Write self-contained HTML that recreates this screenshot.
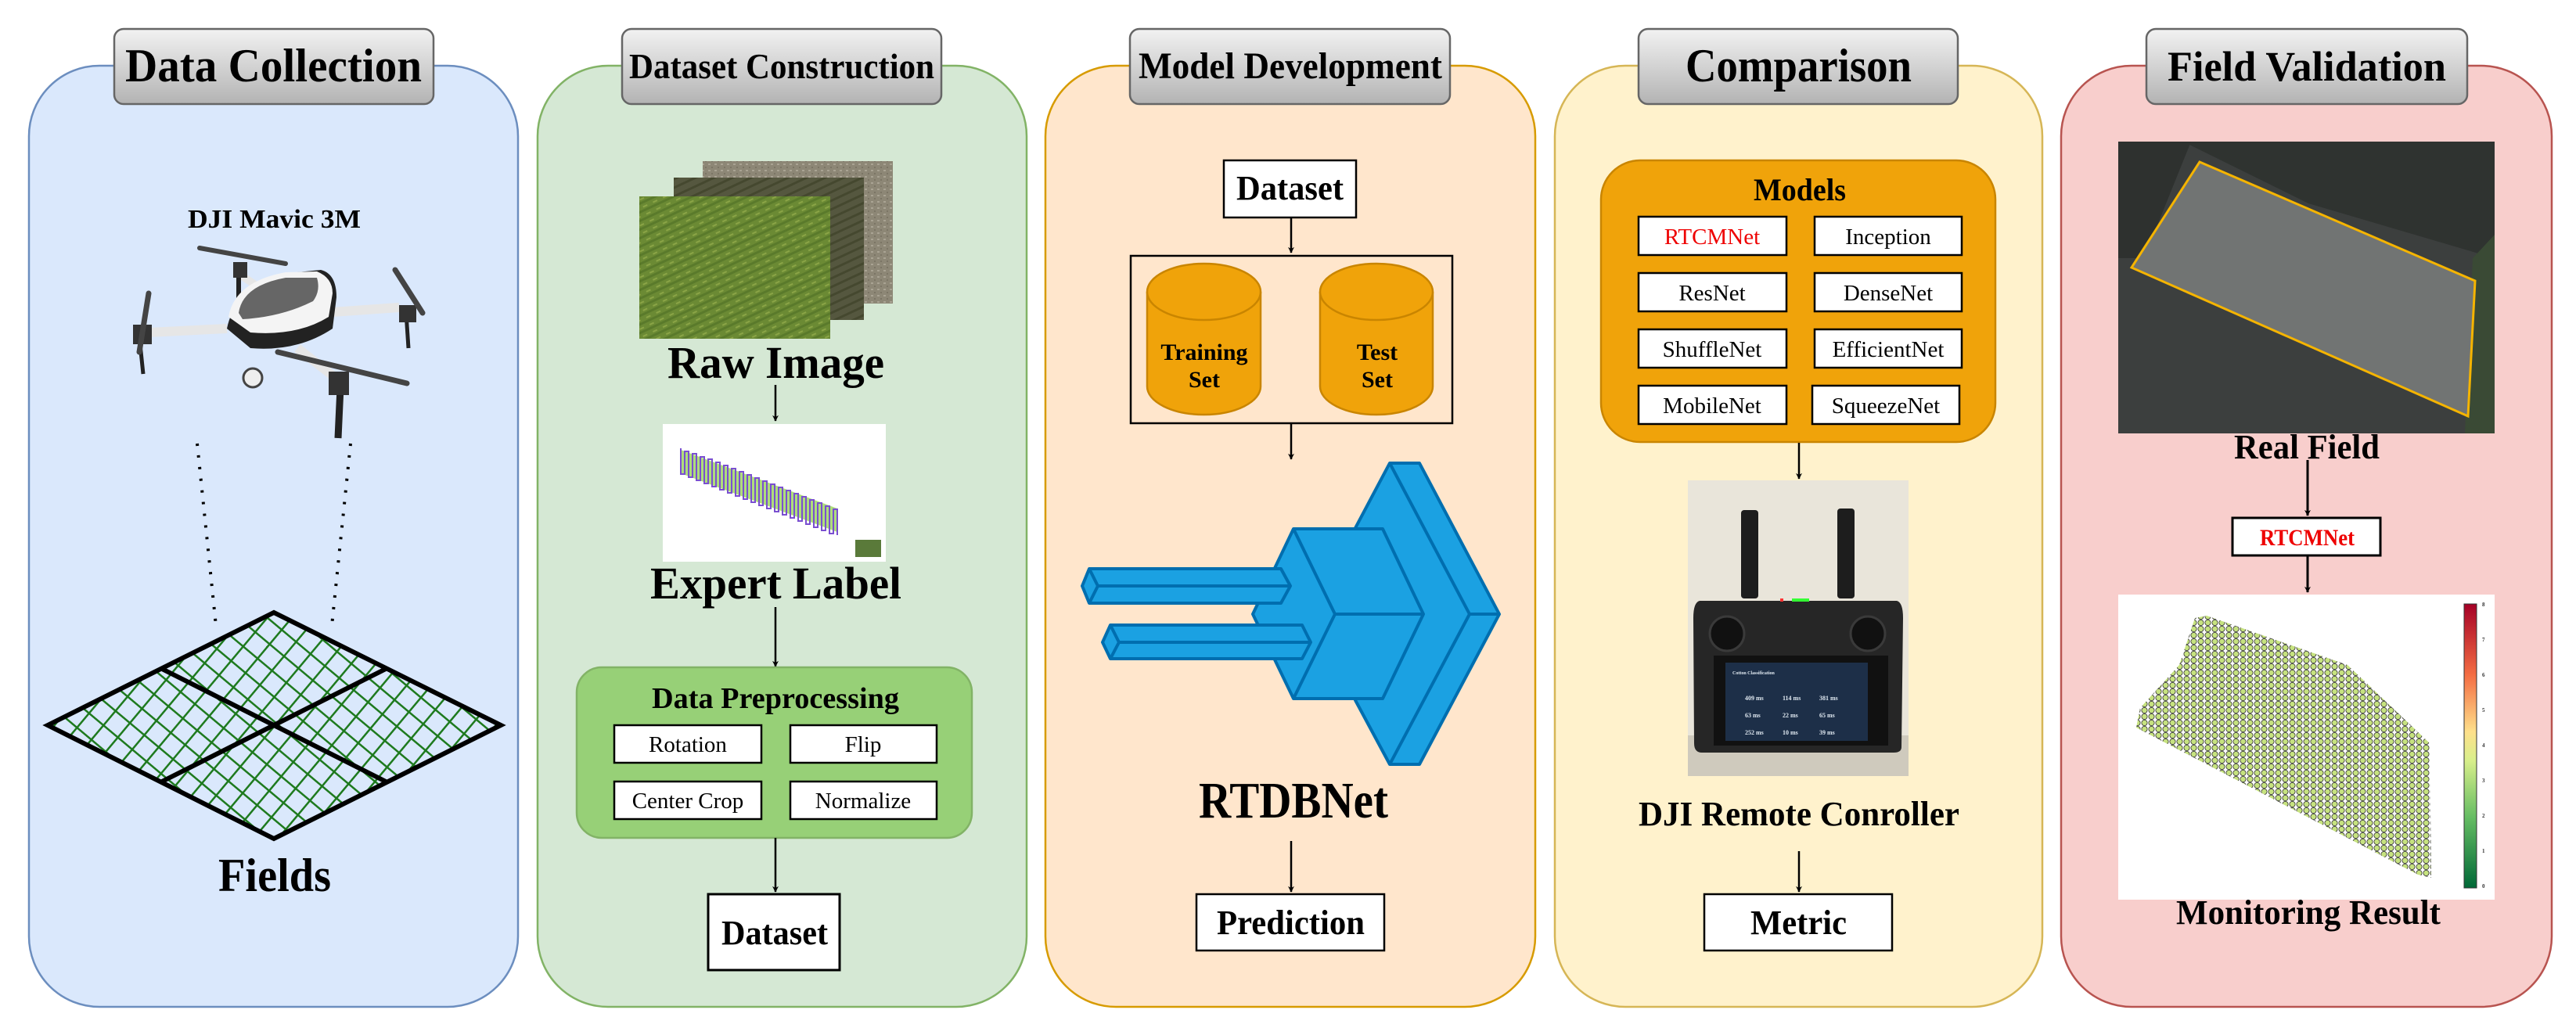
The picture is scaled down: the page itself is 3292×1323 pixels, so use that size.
<!DOCTYPE html>
<html><head><meta charset="utf-8"><style>
html,body{margin:0;padding:0;background:#fff;}
svg{display:block;}
text{font-family:"Liberation Serif",serif;font-weight:bold;}
</style></head><body>
<svg width="3292" height="1323" viewBox="0 0 3292 1323" xmlns="http://www.w3.org/2000/svg">
<defs>
<linearGradient id="tg" x1="0" y1="0" x2="0" y2="1"><stop offset="0" stop-color="#f2f2f2"/><stop offset="1" stop-color="#b3b3b3"/></linearGradient>
<marker id="ar" viewBox="0 0 10 10" refX="9" refY="5" markerWidth="8" markerHeight="8" markerUnits="userSpaceOnUse" orient="auto"><path d="M0,0 L10,5 L0,10 L3,5 z" fill="#000"/></marker>
<pattern id="hatch" width="24" height="24" patternUnits="userSpaceOnUse" patternTransform="rotate(40)">
<line x1="0" y1="0" x2="0" y2="24" stroke="#1e7a1e" stroke-width="5"/><line x1="0" y1="0" x2="24" y2="0" stroke="#1e7a1e" stroke-width="5"/></pattern>
<pattern id="grass" width="14" height="10" patternUnits="userSpaceOnUse" patternTransform="rotate(-25)">
<rect width="14" height="10" fill="#6b8a34"/><rect width="14" height="3" fill="#5a7a2b"/><rect x="3" y="6" width="6" height="2" fill="#8aa446"/></pattern>
<pattern id="dark" width="12" height="10" patternUnits="userSpaceOnUse" patternTransform="rotate(-25)">
<rect width="12" height="10" fill="#55573f"/><rect width="12" height="3" fill="#45482f"/></pattern>
<pattern id="grav" width="8" height="8" patternUnits="userSpaceOnUse">
<rect width="8" height="8" fill="#8d8776"/><rect x="1" y="1" width="3" height="2" fill="#a9a393"/><rect x="5" y="5" width="2" height="2" fill="#7b7565"/></pattern>
<pattern id="dots" width="9" height="8" patternUnits="userSpaceOnUse">
<rect width="9" height="8" fill="#fff"/><circle cx="4.5" cy="4" r="3.6" fill="#c6e27f" stroke="#333" stroke-width="0.8"/></pattern>
<linearGradient id="cb" x1="0" y1="1" x2="0" y2="0"><stop offset="0" stop-color="#006837"/><stop offset="0.25" stop-color="#66bd63"/><stop offset="0.45" stop-color="#d9ef8b"/><stop offset="0.55" stop-color="#fee08b"/><stop offset="0.75" stop-color="#f46d43"/><stop offset="1" stop-color="#a50026"/></linearGradient>
<clipPath id="dia"><polygon points="61,927 350,783 640,927 350,1072"/></clipPath>
<clipPath id="mon"><polygon points="2730,930 2735,905 2785,850 2805,790 2820,787 3000,850 3105,950 3107,1122 3090,1118"/></clipPath>
</defs>

<rect x="37" y="84" width="625" height="1203" rx="90" fill="#dae8fc" stroke="#6c8ebf" stroke-width="2.5"/>
<rect x="687" y="84" width="625" height="1203" rx="90" fill="#d5e8d4" stroke="#82b366" stroke-width="2.5"/>
<rect x="1336" y="84" width="626" height="1203" rx="90" fill="#ffe6cc" stroke="#d79b00" stroke-width="2.5"/>
<rect x="1987" y="84" width="623" height="1203" rx="90" fill="#fff2cc" stroke="#d6b656" stroke-width="2.5"/>
<rect x="2634" y="84" width="627" height="1203" rx="90" fill="#f8cecc" stroke="#b85450" stroke-width="2.5"/>

<g stroke="#666" stroke-width="2.5" fill="url(#tg)">
<rect x="146" y="37" width="408" height="96" rx="12"/>
<rect x="795" y="37" width="408" height="96" rx="12"/>
<rect x="1444" y="37" width="409" height="96" rx="12"/>
<rect x="2094" y="37" width="408" height="96" rx="12"/>
<rect x="2743" y="37" width="410" height="96" rx="12"/>
</g>
<text x="160" y="104" font-size="60" textLength="379" lengthAdjust="spacingAndGlyphs">Data Collection</text>
<text x="804" y="100" font-size="46" textLength="390" lengthAdjust="spacingAndGlyphs">Dataset Construction</text>
<text x="1455" y="100" font-size="48" textLength="388" lengthAdjust="spacingAndGlyphs">Model Development</text>
<text x="2154" y="104" font-size="60" textLength="289" lengthAdjust="spacingAndGlyphs">Comparison</text>
<text x="2770" y="103" font-size="54" textLength="356" lengthAdjust="spacingAndGlyphs">Field Validation</text>

<text x="240" y="291" font-size="34" textLength="221" lengthAdjust="spacingAndGlyphs">DJI Mavic 3M</text>
<g>
<line x1="190" y1="425" x2="290" y2="420" stroke="#e6e6e6" stroke-width="12"/>
<line x1="410" y1="400" x2="510" y2="393" stroke="#e6e6e6" stroke-width="12"/>
<line x1="305" y1="350" x2="335" y2="370" stroke="#e6e6e6" stroke-width="10"/>
<line x1="380" y1="445" x2="425" y2="480" stroke="#e6e6e6" stroke-width="12"/>
<path d="M178,430 L183,478" stroke="#222" stroke-width="5"/>
<path d="M519,400 L522,445" stroke="#222" stroke-width="5"/>
<path d="M305,350 L305,390" stroke="#222" stroke-width="6"/>
<path d="M435,495 L432,560" stroke="#222" stroke-width="9"/>
<rect x="170" y="415" width="24" height="25" fill="#333"/>
<rect x="510" y="390" width="22" height="22" fill="#333"/>
<rect x="298" y="335" width="18" height="20" fill="#333"/>
<rect x="420" y="475" width="26" height="30" fill="#333"/>
<path d="M255,317 L365,337" stroke="#444" stroke-width="6" stroke-linecap="round"/>
<path d="M190,375 L178,450" stroke="#444" stroke-width="7" stroke-linecap="round"/>
<path d="M505,345 L540,400" stroke="#444" stroke-width="7" stroke-linecap="round"/>
<path d="M355,450 L520,490" stroke="#444" stroke-width="7" stroke-linecap="round"/>
<path d="M290,420 Q300,370 360,350 L410,345 Q430,350 430,380 L425,420 Q380,450 320,445 Z" fill="#222"/>
<path d="M292,405 Q300,360 365,348 L405,347 Q425,355 425,375 L420,405 Q380,430 320,425 Z" fill="#f4f4f4"/>
<path d="M305,400 Q310,365 365,355 L405,355 Q410,372 400,385 Q360,405 310,408 Z" fill="#666"/>
<circle cx="323" cy="483" r="12" fill="#eee" stroke="#444" stroke-width="3"/>
</g>
<line x1="252" y1="567" x2="276" y2="800" stroke="#000" stroke-width="4" stroke-dasharray="3,12"/>
<line x1="448" y1="567" x2="424" y2="800" stroke="#000" stroke-width="4" stroke-dasharray="3,12"/>
<rect x="40" y="770" width="620" height="320" fill="url(#hatch)" clip-path="url(#dia)"/>
<polygon points="61,927 350,783 640,927 350,1072" fill="none" stroke="#000" stroke-width="6"/>
<line x1="207" y1="855" x2="493" y2="999" stroke="#000" stroke-width="6"/>
<line x1="493" y1="855" x2="207" y2="999" stroke="#000" stroke-width="6"/>
<text x="279" y="1139" font-size="60" textLength="144" lengthAdjust="spacingAndGlyphs">Fields</text>

<rect x="898" y="206" width="243" height="182" fill="url(#grav)"/>
<rect x="861" y="227" width="243" height="182" fill="url(#dark)"/>
<rect x="817" y="251" width="244" height="182" fill="url(#grass)"/>
<text x="853" y="483" font-size="58" textLength="277" lengthAdjust="spacingAndGlyphs">Raw Image</text>
<line x1="991" y1="492" x2="991" y2="538" stroke="#000" stroke-width="2.5" marker-end="url(#ar)"/>
<rect x="847" y="542" width="285" height="176" fill="#fff"/>
<polygon points="870,575 1070,650 1070,680 870,605" fill="#9ad65a" opacity="0.8"/>
<polyline points="870,573 870,606 875,606 875,577 880,577 880,610 885,610 885,580 890,580 890,614 895,614 895,584 900,584 900,618 905,618 905,587 910,587 910,622 915,622 915,591 920,591 920,626 925,626 925,595 930,595 930,630 935,630 935,599 940,599 940,634 945,634 945,603 950,603 950,638 955,638 955,607 960,607 960,642 965,642 965,611 970,611 970,646 975,646 975,615 980,615 980,650 985,650 985,619 990,619 990,654 995,654 995,623 1000,623 1000,658 1005,658 1005,627 1010,627 1010,662 1015,662 1015,631 1020,631 1020,666 1025,666 1025,635 1030,635 1030,670 1035,670 1035,639 1040,639 1040,674 1045,674 1045,643 1050,643 1050,678 1055,678 1055,647 1060,647 1060,682 1065,682 1065,651 1070,651 1070,684" fill="none" stroke="#7a4fd0" stroke-width="2"/>
<rect x="1093" y="690" width="33" height="22" fill="#5a7a3a"/>
<text x="831" y="765" font-size="58" textLength="321" lengthAdjust="spacingAndGlyphs">Expert Label</text>
<line x1="991" y1="776" x2="991" y2="852" stroke="#000" stroke-width="2.5" marker-end="url(#ar)"/>
<rect x="737" y="853" width="505" height="218" rx="32" fill="#97d077" stroke="#82b366" stroke-width="2.5"/>
<text x="833" y="905" font-size="38" textLength="316" lengthAdjust="spacingAndGlyphs">Data Preprocessing</text>
<g fill="#fff" stroke="#000" stroke-width="2.5">
<rect x="785" y="927" width="188" height="48"/><rect x="1010" y="927" width="187" height="48"/>
<rect x="785" y="999" width="188" height="48"/><rect x="1010" y="999" width="187" height="48"/>
</g>
<g font-size="29" text-anchor="middle">
<text x="879" y="961" style="font-weight:normal">Rotation</text>
<text x="1103" y="961" style="font-weight:normal">Flip</text>
<text x="879" y="1033" style="font-weight:normal">Center Crop</text>
<text x="1103" y="1033" style="font-weight:normal">Normalize</text>
</g>
<line x1="991" y1="1071" x2="991" y2="1140" stroke="#000" stroke-width="2.5" marker-end="url(#ar)"/>
<rect x="905" y="1143" width="168" height="97" fill="#fff" stroke="#000" stroke-width="3"/>
<text x="922" y="1207" font-size="44" textLength="136" lengthAdjust="spacingAndGlyphs">Dataset</text>

<rect x="1564" y="205" width="169" height="73" fill="#fff" stroke="#000" stroke-width="2.5"/>
<text x="1580" y="255" font-size="44" textLength="137" lengthAdjust="spacingAndGlyphs">Dataset</text>
<line x1="1650" y1="278" x2="1650" y2="323" stroke="#000" stroke-width="2.5" marker-end="url(#ar)"/>
<rect x="1445" y="327" width="411" height="214" fill="none" stroke="#000" stroke-width="2.5"/>
<g fill="#f0a30a" stroke="#c98500" stroke-width="2.5">
<path d="M1466,373 L1466,494 A72.5,36 0 0 0 1611,494 L1611,373"/>
<ellipse cx="1538.5" cy="373" rx="72.5" ry="36"/>
<path d="M1687,373 L1687,494 A72,36 0 0 0 1831,494 L1831,373"/>
<ellipse cx="1759" cy="373" rx="72" ry="36"/>
</g>
<g font-size="30" text-anchor="middle">
<text x="1539" y="460">Training</text><text x="1539" y="495">Set</text>
<text x="1760" y="460">Test</text><text x="1760" y="495">Set</text>
</g>
<line x1="1650" y1="541" x2="1650" y2="587" stroke="#000" stroke-width="2.5" marker-end="url(#ar)"/>
<g fill="#1ba1e2" stroke="#006eaf" stroke-width="4" stroke-linejoin="round">
<polygon points="1776,592 1814,592 1916,785 1814,977 1776,977 1732,895 1732,675"/>
<line x1="1776" y1="592" x2="1878" y2="785"/><line x1="1878" y1="785" x2="1776" y2="977"/><line x1="1878" y1="785" x2="1916" y2="785"/>
<polygon points="1653,676 1767,676 1819,785 1767,893 1653,893 1601,785"/>
<polyline points="1653,676 1706,785 1653,893" fill="none"/><line x1="1706" y1="785" x2="1819" y2="785"/>
<polygon points="1392,727 1637,727 1649,749 1637,771 1392,771 1383,749"/>
<polyline points="1392,727 1403,749 1392,771" fill="none"/><line x1="1403" y1="749" x2="1649" y2="749"/>
<polygon points="1419,799 1664,799 1675,821 1664,842 1419,842 1409,821"/>
<polyline points="1419,799 1430,821 1419,842" fill="none"/><line x1="1430" y1="821" x2="1675" y2="821"/>
</g>
<text x="1532" y="1045" font-size="66" textLength="242" lengthAdjust="spacingAndGlyphs">RTDBNet</text>
<line x1="1650" y1="1075" x2="1650" y2="1140" stroke="#000" stroke-width="2.5" marker-end="url(#ar)"/>
<rect x="1529" y="1143" width="240" height="72" fill="#fff" stroke="#000" stroke-width="2.5"/>
<text x="1555" y="1194" font-size="44" textLength="189" lengthAdjust="spacingAndGlyphs">Prediction</text>

<rect x="2046" y="205" width="504" height="360" rx="50" fill="#f0a30a" stroke="#c98500" stroke-width="2.5"/>
<text x="2241" y="256" font-size="40" textLength="118" lengthAdjust="spacingAndGlyphs">Models</text>
<g fill="#fff" stroke="#000" stroke-width="2.5">
<rect x="2094" y="277" width="189" height="49"/><rect x="2319" y="277" width="188" height="49"/>
<rect x="2094" y="349" width="189" height="49"/><rect x="2319" y="349" width="188" height="49"/>
<rect x="2094" y="421" width="189" height="49"/><rect x="2319" y="421" width="188" height="49"/>
<rect x="2094" y="493" width="189" height="49"/><rect x="2316" y="493" width="188" height="49"/>
</g>
<g font-size="29" text-anchor="middle">
<text x="2188" y="312" fill="#e00" style="font-weight:normal">RTCMNet</text>
<text x="2413" y="312" style="font-weight:normal">Inception</text>
<text x="2188" y="384" style="font-weight:normal">ResNet</text>
<text x="2413" y="384" style="font-weight:normal">DenseNet</text>
<text x="2188" y="456" style="font-weight:normal">ShuffleNet</text>
<text x="2413" y="456" style="font-weight:normal">EfficientNet</text>
<text x="2188" y="528" style="font-weight:normal">MobileNet</text>
<text x="2410" y="528" style="font-weight:normal">SqueezeNet</text>
</g>
<line x1="2299" y1="566" x2="2299" y2="612" stroke="#000" stroke-width="2.5" marker-end="url(#ar)"/>
<rect x="2157" y="614" width="282" height="378" fill="#e9e5da"/>
<rect x="2157" y="940" width="282" height="52" fill="#cfcabd"/>
<rect x="2225" y="652" width="22" height="113" rx="4" fill="#1d1d1d"/>
<rect x="2348" y="650" width="22" height="115" rx="4" fill="#1d1d1d"/>
<path d="M2172,768 L2424,768 Q2432,770 2432,790 L2430,955 Q2430,962 2420,962 L2175,962 Q2165,962 2165,950 L2164,790 Q2164,770 2172,768 Z" fill="#262626"/>
<circle cx="2207" cy="810" r="22" fill="#111" stroke="#3a3a3a" stroke-width="3"/>
<circle cx="2387" cy="810" r="22" fill="#111" stroke="#3a3a3a" stroke-width="3"/>
<rect x="2275" y="765" width="4" height="4" fill="#f33"/>
<rect x="2290" y="765" width="22" height="4" fill="#3f3"/>
<rect x="2190" y="838" width="223" height="115" fill="#111"/>
<rect x="2205" y="847" width="182" height="100" fill="#1d2f48"/>
<g fill="#dfe8f0" font-size="8" style="font-family:'Liberation Sans',sans-serif">
<text x="2214" y="862" font-size="6">Cotton Classification</text>
<text x="2230" y="895">409 ms</text><text x="2278" y="895">114 ms</text><text x="2325" y="895">381 ms</text>
<text x="2230" y="917">63 ms</text><text x="2278" y="917">22 ms</text><text x="2325" y="917">65 ms</text>
<text x="2230" y="939">252 ms</text><text x="2278" y="939">10 ms</text><text x="2325" y="939">39 ms</text>
</g>
<text x="2094" y="1055" font-size="44" textLength="410" lengthAdjust="spacingAndGlyphs">DJI Remote Conroller</text>
<line x1="2299" y1="1088" x2="2299" y2="1140" stroke="#000" stroke-width="2.5" marker-end="url(#ar)"/>
<rect x="2178" y="1143" width="240" height="72" fill="#fff" stroke="#000" stroke-width="2.5"/>
<text x="2237" y="1194" font-size="44" textLength="123" lengthAdjust="spacingAndGlyphs">Metric</text>

<rect x="2707" y="181" width="481" height="373" fill="#3c3f3e"/>
<polygon points="2790,181 3188,181 3188,330 2950,260" fill="#2f3330"/>
<polygon points="2707,181 2800,181 2740,330 2707,330" fill="#2e312f"/>
<polygon points="3160,330 3188,300 3188,554 3150,554" fill="#3a4a35"/>
<polygon points="2811,207 3163,359 3154,532 2724,342" fill="#717473" stroke="#f5b400" stroke-width="3"/>
<text x="2855" y="586" font-size="44" textLength="186" lengthAdjust="spacingAndGlyphs">Real Field</text>
<line x1="2949" y1="588" x2="2949" y2="659" stroke="#000" stroke-width="3" marker-end="url(#ar)"/>
<rect x="2853" y="662" width="189" height="48" fill="#fff" stroke="#000" stroke-width="3"/>
<text x="2888" y="697" font-size="30" fill="#e00" textLength="121" lengthAdjust="spacingAndGlyphs">RTCMNet</text>
<line x1="2949" y1="710" x2="2949" y2="757" stroke="#000" stroke-width="3" marker-end="url(#ar)"/>
<rect x="2707" y="760" width="481" height="390" fill="#fff"/>
<rect x="2725" y="780" width="390" height="350" fill="url(#dots)" clip-path="url(#mon)"/>
<rect x="3149" y="772" width="16" height="363" fill="url(#cb)" stroke="#333" stroke-width="1"/>
<g font-size="7" fill="#333" style="font-family:'Liberation Sans',sans-serif;font-weight:normal">
<text x="3172" y="775">8</text><text x="3172" y="820">7</text><text x="3172" y="865">6</text><text x="3172" y="910">5</text><text x="3172" y="955">4</text><text x="3172" y="1000">3</text><text x="3172" y="1045">2</text><text x="3172" y="1090">1</text><text x="3172" y="1135">0</text>
</g>
<text x="2781" y="1181" font-size="44" textLength="338" lengthAdjust="spacingAndGlyphs">Monitoring Result</text>
</svg>
</body></html>
